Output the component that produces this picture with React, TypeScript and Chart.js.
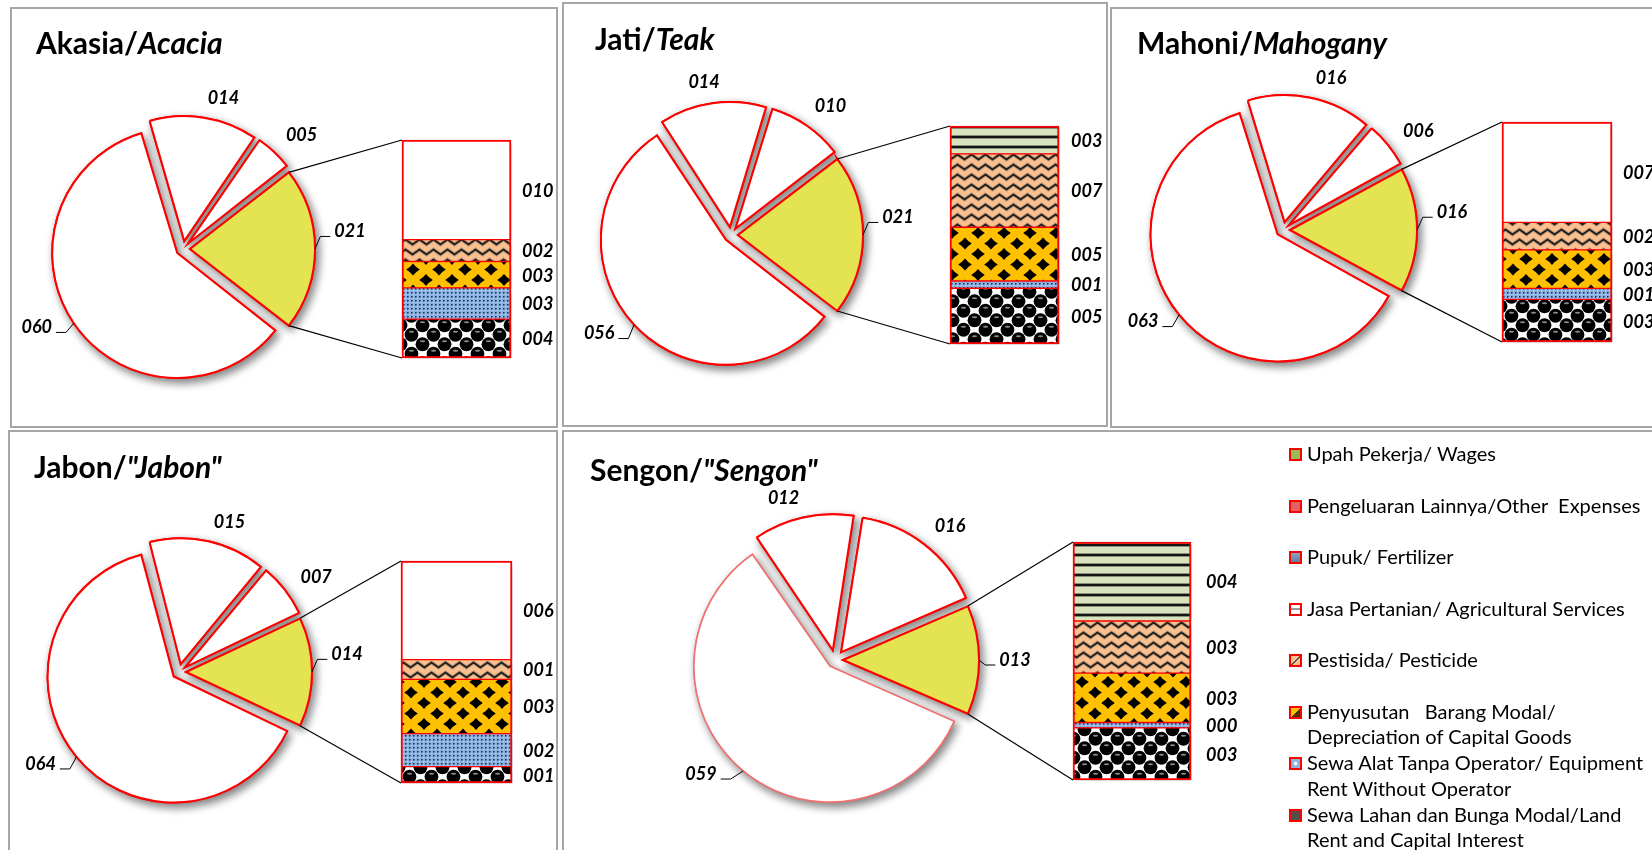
import React, { useEffect, useRef } from 'react';
import { Chart, registerables } from 'chart.js';

Chart.register(...registerables);

// ---------------- data ----------------
const pieSliceNames = ['Komponen 1', 'Komponen 2', 'Komponen 3', 'Lainnya/Others'];
const barSegmentNames = [
  'Sewa Lahan dan Bunga Modal/Land Rent and Capital Interest',
  'Sewa Alat Tanpa Operator/ Equipment Rent Without Operator',
  'Penyusutan Barang Modal/ Depreciation of Capital Goods',
  'Pestisida/ Pesticide',
];

// pie: [largest, second, third, "other" (exploded into the bar)]
// bar: bottom -> top
const akasiaPie = [60, 14, 5, 21];
const akasiaBar = [3.75, 3.0, 2.55, 2.1, 9.6];
const jatiPie = [56, 14, 10, 21];
const jatiBar = [5.4, 0.7, 5.2, 7.1, 2.7];
const mahoniPie = [63, 16, 6, 16];
const mahoniBar = [3.1, 0.8, 2.8, 2.0, 7.3];
const jabonPie = [64, 15, 7, 14];
const jabonBar = [1.0, 2.0, 3.3, 1.2, 6.0];
const sengonPie = [59, 12, 16, 13];
const sengonBar = [2.9, 0.3, 2.75, 2.9, 4.4];

const legendItems = [
  'Upah Pekerja/ Wages',
  'Pengeluaran Lainnya/Other  Expenses',
  'Pupuk/ Fertilizer',
  'Jasa Pertanian/ Agricultural Services',
  'Pestisida/ Pesticide',
  'Penyusutan   Barang Modal/\nDepreciation of Capital Goods',
  'Sewa Alat Tanpa Operator/ Equipment\nRent Without Operator',
  'Sewa Lahan dan Bunga Modal/Land\nRent and Capital Interest',
];
const legendSwatches = [
  '#9bbb59',
  '#e06262',
  'linear-gradient(#86a6c6, #5f7f9f)',
  'linear-gradient(#ffffff 0 35%, #9a9a9a 35% 60%, #ffffff 60%)',
  'linear-gradient(135deg, #fac090 0 45%, #555 45% 58%, #fac090 58%)',
  'linear-gradient(135deg, #ffc000 0 50%, #4a3000 50%)',
  'radial-gradient(circle, #ffffff 20%, #8db3e2 35%)',
  '#505050',
];

type Panel = {
  title: [string, string];
  pie: number[];
  bar: number[];
  topFill: 'plain' | 'wages';
  box: { x: number; y: number; w: number; h: number };
  canvas: { w: number; h: number };
  titlePos: [number, number];
  center: [number, number];
  radius: number;
  explode: number[];
  labelTurn: number[];
  barRect: { x: number; y: number; w: number; h: number };
  barLabelGap: number;
  bigBorder?: string;
};

const panels: Panel[] = [
  {
    title: ['Akasia/', 'Acacia'], pie: akasiaPie, bar: akasiaBar, topFill: 'plain',
    box: { x: 10, y: 7, w: 548, h: 421 }, canvas: { w: 548, h: 421 }, titlePos: [26, 36],
    center: [173, 242], radius: 125, explode: [7, 8, 8, 7], labelTurn: [6, 6, 3, -6],
    barRect: { x: 392, y: 133, w: 109, h: 218 }, barLabelGap: 11,
  },
  {
    title: ['Jati/', 'Teak'], pie: jatiPie, bar: jatiBar, topFill: 'wages',
    box: { x: 562, y: 2, w: 546, h: 425 }, canvas: { w: 546, h: 425 }, titlePos: [33, 37],
    center: [169, 233], radius: 125, explode: [7, 8, 8, 7], labelTurn: [6, -2, 3, -6],
    barRect: { x: 388, y: 124, w: 109, h: 218 }, barLabelGap: 12,
  },
  {
    title: ['Mahoni/', 'Mahogany'], pie: mahoniPie, bar: mahoniBar, topFill: 'plain',
    box: { x: 1110, y: 7, w: 560, h: 421 }, canvas: { w: 542, h: 421 }, titlePos: [27, 36],
    center: [173, 223], radius: 127, explode: [7, 8, 8, 7], labelTurn: [6, 6, 3, -6],
    barRect: { x: 392, y: 115, w: 110, h: 220 }, barLabelGap: 11,
  },
  {
    title: ['Jabon/', '"Jabon"'], pie: jabonPie, bar: jabonBar, topFill: 'plain',
    box: { x: 8, y: 430, w: 550, h: 440 }, canvas: { w: 550, h: 420 }, titlePos: [26, 37],
    center: [171, 242], radius: 126, explode: [7, 8, 8, 7], labelTurn: [6, 6, 3, -6],
    barRect: { x: 393, y: 131, w: 111, h: 222 }, barLabelGap: 11,
  },
  {
    title: ['Sengon/', '"Sengon"'], pie: sengonPie, bar: sengonBar, topFill: 'wages',
    box: { x: 562, y: 430, w: 1110, h: 440 }, canvas: { w: 700, h: 420 }, titlePos: [28, 40],
    center: [273, 230], radius: 136, explode: [8, 10, 10, 8], labelTurn: [10, -5, 3, 0],
    barRect: { x: 511, y: 112, w: 118, h: 238 }, barLabelGap: 15, bigBorder: '#f07070',
  },
];

const LABEL_FONT = 'italic 700 18px Lato';
const RED = '#ff0000';
const YELLOW = '#e4e452';
const fmt = (v: number) => String(Math.round(v)).padStart(3, '0');

// ---------------- patterns ----------------
function tile(w: number, h: number, draw: (c: CanvasRenderingContext2D) => void): CanvasPattern {
  const cv = document.createElement('canvas');
  cv.width = w;
  cv.height = h;
  const c = cv.getContext('2d')!;
  draw(c);
  return c.createPattern(cv, 'repeat')!;
}

function makePatterns() {
  const stripes = tile(8, 10, (c) => {
    c.fillStyle = '#d7e4bd';
    c.fillRect(0, 0, 8, 10);
    c.fillStyle = 'rgba(40,40,40,0.45)';
    c.fillRect(0, 3, 8, 1);
    c.fillRect(0, 6, 8, 1);
    c.fillStyle = '#151515';
    c.fillRect(0, 4, 8, 2);
  });
  const wave = tile(14, 10, (c) => {
    c.fillStyle = '#fac090';
    c.fillRect(0, 0, 14, 10);
    c.lineJoin = 'miter';
    const path = () => {
      c.beginPath();
      c.moveTo(-3.5, 7.5);
      c.lineTo(3.5, 2.5);
      c.lineTo(10.5, 7.5);
      c.lineTo(17.5, 2.5);
    };
    c.strokeStyle = 'rgba(60,60,60,0.35)';
    c.lineWidth = 3.6;
    path();
    c.stroke();
    c.strokeStyle = '#1a1a1a';
    c.lineWidth = 1.8;
    path();
    c.stroke();
  });
  const diamonds = tile(26, 21, (c) => {
    c.fillStyle = '#ffc000';
    c.fillRect(0, 0, 26, 21);
    c.fillStyle = '#000';
    const d = (cx: number, cy: number) => {
      const sx = 6.8;
      const sy = 6.0;
      const kx = 2.7;
      const ky = 2.4;
      c.beginPath();
      c.moveTo(cx, cy - sy);
      c.quadraticCurveTo(cx + kx, cy - ky, cx + sx, cy);
      c.quadraticCurveTo(cx + kx, cy + ky, cx, cy + sy);
      c.quadraticCurveTo(cx - kx, cy + ky, cx - sx, cy);
      c.quadraticCurveTo(cx - kx, cy - ky, cx, cy - sy);
      c.fill();
    };
    [[13, 10.5], [0, 0], [26, 0], [0, 21], [26, 21]].forEach(([x, y]) => d(x, y));
  });
  const dots = tile(4, 4, (c) => {
    c.fillStyle = '#8db3e2';
    c.fillRect(0, 0, 4, 4);
    c.fillStyle = '#1c2a44';
    c.fillRect(1, 1, 1.5, 1.5);
    c.fillStyle = 'rgba(255,255,255,0.45)';
    c.fillRect(3, 3, 1, 1);
  });
  const spheres = tile(22, 19, (c) => {
    c.fillStyle = '#ffffff';
    c.fillRect(0, 0, 22, 19);
    const centers = [[5.5, 4.75], [16.5, 14.25]];
    for (const [cx, cy] of centers) {
      for (const ox of [-22, 0, 22]) {
        for (const oy of [-19, 0, 19]) {
          c.fillStyle = '#000';
          c.beginPath();
          c.arc(cx + ox, cy + oy, 6.9, 0, Math.PI * 2);
          c.fill();
        }
      }
    }
    for (const [cx, cy] of centers) {
      for (const ox of [-22, 0, 22]) {
        for (const oy of [-19, 0, 19]) {
          c.fillStyle = '#8a8a8a';
          c.beginPath();
          c.ellipse(cx + ox, cy + oy - 3, 2.6, 1.1, 0, 0, Math.PI * 2);
          c.fill();
        }
      }
    }
  });
  return { stripes, wave, diamonds, dots, spheres };
}

// ---------------- charts ----------------
function buildPie(canvas: HTMLCanvasElement, p: Panel): Chart {
  const total = p.pie.reduce((a, b) => a + b, 0);
  const otherSweep = (p.pie[3] / total) * 360;
  const W = canvas.width;
  const H = canvas.height;
  const [cx, cy] = p.center;
  const padding = {
    left: Math.max(0, 2 * cx - W),
    right: Math.max(0, W - 2 * cx),
    top: Math.max(0, 2 * cy - H),
    bottom: Math.max(0, H - 2 * cy),
  };
  const r = p.radius;

  const fixRadius = {
    id: 'fixRadius',
    afterDatasetUpdate(chart: any) {
      const meta = chart.getDatasetMeta(0);
      meta.data.forEach((el: any, i: number) => {
        const t = p.explode[i];
        const fix = 1 - Math.sin(Math.min(Math.PI, el.circumference || 0));
        el.outerRadius = r - t * fix;
      });
    },
  };

  const shadow = {
    id: 'pieShadow',
    beforeDatasetsDraw(chart: any) {
      const ctx = chart.ctx;
      ctx.save();
      ctx.shadowColor = 'rgba(0,0,0,0.5)';
      ctx.shadowBlur = 8;
      ctx.shadowOffsetX = 3;
      ctx.shadowOffsetY = 4;
      chart.getDatasetMeta(0).data.forEach((el: any) => el.draw(ctx, chart.chartArea));
      ctx.restore();
    },
  };

  const labels = {
    id: 'pieLabels',
    afterDatasetsDraw(chart: any) {
      const ctx = chart.ctx;
      const meta = chart.getDatasetMeta(0);
      const data = chart.data.datasets[0].data as number[];
      ctx.save();
      ctx.font = LABEL_FONT;
      ctx.fillStyle = '#000';
      ctx.strokeStyle = '#000';
      ctx.lineWidth = 1;
      ctx.textAlign = 'center';
      ctx.textBaseline = 'middle';
      meta.data.forEach((el: any, i: number) => {
        const mid = (el.startAngle + el.endAngle) / 2;
        const t = p.explode[i];
        const a = mid + (p.labelTurn[i] * Math.PI) / 180;
        const dist = r + t + 19 + 17 * Math.abs(Math.cos(a));
        const lx = el.x + Math.cos(a) * dist;
        const ly = el.y + Math.sin(a) * dist;
        const text = fmt(data[i]);
        ctx.fillText(text, lx, ly);
        if (i === 0 || i === 3) {
          const w = ctx.measureText(text).width;
          const px = el.x + Math.cos(mid) * (t + r);
          const py = el.y + Math.sin(mid) * (t + r);
          const left = lx < el.x;
          const ax = left ? lx + w / 2 + 4 : lx - w / 2 - 4;
          const ay = ly + 5;
          const ex = left ? ax + 10 : ax - 10;
          ctx.beginPath();
          ctx.moveTo(px, py);
          ctx.lineTo(ex, ay);
          ctx.lineTo(ax, ay);
          ctx.stroke();
        }
      });
      ctx.restore();
    },
  };

  return new Chart(canvas, {
    type: 'pie',
    data: {
      labels: pieSliceNames,
      datasets: [
        {
          data: p.pie,
          backgroundColor: ['#ffffff', '#ffffff', '#ffffff', YELLOW],
          borderColor: [p.bigBorder || RED, RED, RED, RED],
          borderWidth: [p.bigBorder ? 1.6 : 2, 2, 2, 2],
          borderJoinStyle: 'miter',
          offset: p.explode.map((e) => e * 4),
        } as any,
      ],
    },
    options: {
      responsive: false,
      animation: false,
      events: [],
      rotation: 90 + otherSweep / 2,
      radius: r,
      layout: { padding },
      plugins: { legend: { display: false }, tooltip: { enabled: false } },
    } as any,
    plugins: [fixRadius, shadow, labels],
  });
}

function buildBar(canvas: HTMLCanvasElement, p: Panel, pie: Chart, pats: ReturnType<typeof makePatterns>): Chart {
  const W = canvas.width;
  const H = canvas.height;
  const b = p.barRect;
  const total = p.bar.reduce((a, v) => a + v, 0);
  const n = p.bar.length;
  const fills: any[] = [pats.spheres, pats.dots, pats.diamonds, pats.wave, p.topFill === 'wages' ? pats.stripes : '#ffffff'];
  const names = [...barSegmentNames, p.topFill === 'wages' ? 'Upah Pekerja/ Wages' : 'Lainnya/Others'];
  const datasets = p.bar.map((v, k) => ({
    label: names[k],
    data: [v],
    backgroundColor: fills[k],
    borderColor: RED,
    borderWidth: { left: 2, right: 2, top: k === n - 1 ? 2 : 1, bottom: k === 0 ? 2 : 1 },
    borderSkipped: false,
    barPercentage: 1,
    categoryPercentage: 1,
  }));

  const decor = {
    id: 'barDecor',
    beforeDatasetsDraw(chart: any) {
      const ctx = chart.ctx;
      ctx.save();
      ctx.shadowColor = 'rgba(0,0,0,0.5)';
      ctx.shadowBlur = 7;
      ctx.shadowOffsetX = 4;
      ctx.shadowOffsetY = 4;
      for (let k = 0; k < n; k++) chart.getDatasetMeta(k).data.forEach((el: any) => el.draw(ctx));
      ctx.restore();
      const bottomEl: any = chart.getDatasetMeta(0).data[0];
      const topEl: any = chart.getDatasetMeta(n - 1).data[0];
      const left = bottomEl.x - bottomEl.width / 2;
      const arc: any = pie.getDatasetMeta(0).data[3];
      const t = p.explode[3];
      const mid = (arc.startAngle + arc.endAngle) / 2;
      const ox = arc.x + Math.cos(mid) * t;
      const oy = arc.y + Math.sin(mid) * t;
      const r = p.radius;
      ctx.save();
      ctx.strokeStyle = '#000';
      ctx.lineWidth = 1.2;
      ctx.beginPath();
      ctx.moveTo(ox + Math.cos(arc.startAngle) * r, oy + Math.sin(arc.startAngle) * r);
      ctx.lineTo(left, topEl.y);
      ctx.moveTo(ox + Math.cos(arc.endAngle) * r, oy + Math.sin(arc.endAngle) * r);
      ctx.lineTo(left, bottomEl.base);
      ctx.stroke();
      ctx.restore();
    },
    afterDatasetsDraw(chart: any) {
      const ctx = chart.ctx;
      ctx.save();
      ctx.font = LABEL_FONT;
      ctx.fillStyle = '#000';
      ctx.textAlign = 'left';
      ctx.textBaseline = 'middle';
      for (let k = 0; k < n; k++) {
        const el: any = chart.getDatasetMeta(k).data[0];
        const v = chart.data.datasets[k].data[0] as number;
        ctx.fillText(fmt(v), el.x + el.width / 2 + p.barLabelGap, (el.y + el.base) / 2 + 1);
      }
      ctx.restore();
    },
  };

  return new Chart(canvas, {
    type: 'bar',
    data: { labels: [''], datasets: datasets as any },
    options: {
      responsive: false,
      animation: false,
      events: [],
      layout: { padding: { left: b.x, top: b.y, right: W - b.x - b.w, bottom: H - b.y - b.h } },
      scales: {
        x: { display: false, stacked: true },
        y: { display: false, stacked: true, min: 0, max: total },
      },
      plugins: { legend: { display: false }, tooltip: { enabled: false } },
    } as any,
    plugins: [decor],
  });
}

export default function App() {
  const pieRefs = useRef<(HTMLCanvasElement | null)[]>([]);
  const barRefs = useRef<(HTMLCanvasElement | null)[]>([]);

  useEffect(() => {
    const charts: Chart[] = [];
    let cancelled = false;
    const build = () => {
      if (cancelled) return;
      const pats = makePatterns();
      panels.forEach((p, i) => {
        const pc = pieRefs.current[i];
        const bc = barRefs.current[i];
        if (!pc || !bc) return;
        const pie = buildPie(pc, p);
        const bar = buildBar(bc, p, pie, pats);
        charts.push(pie, bar);
      });
    };
    const fonts: any = (document as any).fonts;
    const ready = fonts
      ? Promise.all([
          fonts.load('italic 700 18px Lato'),
          fonts.load('700 30px Lato'),
          fonts.load('italic 700 30px Lato'),
          fonts.load('400 20px Lato'),
        ]).catch(() => null)
      : Promise.resolve(null);
    ready.then(build);
    return () => {
      cancelled = true;
      charts.forEach((c) => c.destroy());
    };
  }, []);

  return (
    <div
      style={{
        position: 'absolute',
        left: 0,
        top: 0,
        width: 1652,
        height: 850,
        overflow: 'hidden',
        background: '#ffffff',
        fontFamily: 'Lato, sans-serif',
      }}
    >
      {panels.map((p, i) => (
        <React.Fragment key={i}>
          <div
            style={{
              position: 'absolute',
              left: p.box.x,
              top: p.box.y,
              width: p.box.w,
              height: p.box.h,
              border: '2px solid #a6a6a6',
              boxSizing: 'border-box',
            }}
          />
          <canvas
            ref={(el) => {
              pieRefs.current[i] = el;
            }}
            width={p.canvas.w}
            height={p.canvas.h}
            style={{ position: 'absolute', left: p.box.x, top: p.box.y }}
          />
          <canvas
            ref={(el) => {
              barRefs.current[i] = el;
            }}
            width={p.canvas.w}
            height={p.canvas.h}
            style={{ position: 'absolute', left: p.box.x, top: p.box.y }}
          />
          <div
            style={{
              position: 'absolute',
              left: p.box.x + p.titlePos[0],
              top: p.box.y + p.titlePos[1] - 16,
              font: '700 30px Lato',
              lineHeight: '31px',
              whiteSpace: 'nowrap',
              color: '#000',
            }}
          >
            {p.title[0]}
            <i>{p.title[1]}</i>
          </div>
        </React.Fragment>
      ))}
      <div style={{ position: 'absolute', left: 1289, top: 442 }}>
        {legendItems.map((t, i) => (
          <div key={i} style={{ position: 'relative', height: 51.5, width: 362 }}>
            <div
              style={{
                position: 'absolute',
                left: 0,
                top: 6,
                width: 13,
                height: 13,
                boxSizing: 'border-box',
                border: '2px solid #ff0000',
                background: legendSwatches[i],
              }}
            />
            <div
              style={{
                position: 'absolute',
                left: 18,
                top: -1,
                font: '400 20px Lato',
                lineHeight: '25.5px',
                whiteSpace: 'pre',
                color: '#000',
              }}
            >
              {t}
            </div>
          </div>
        ))}
      </div>
    </div>
  );
}
